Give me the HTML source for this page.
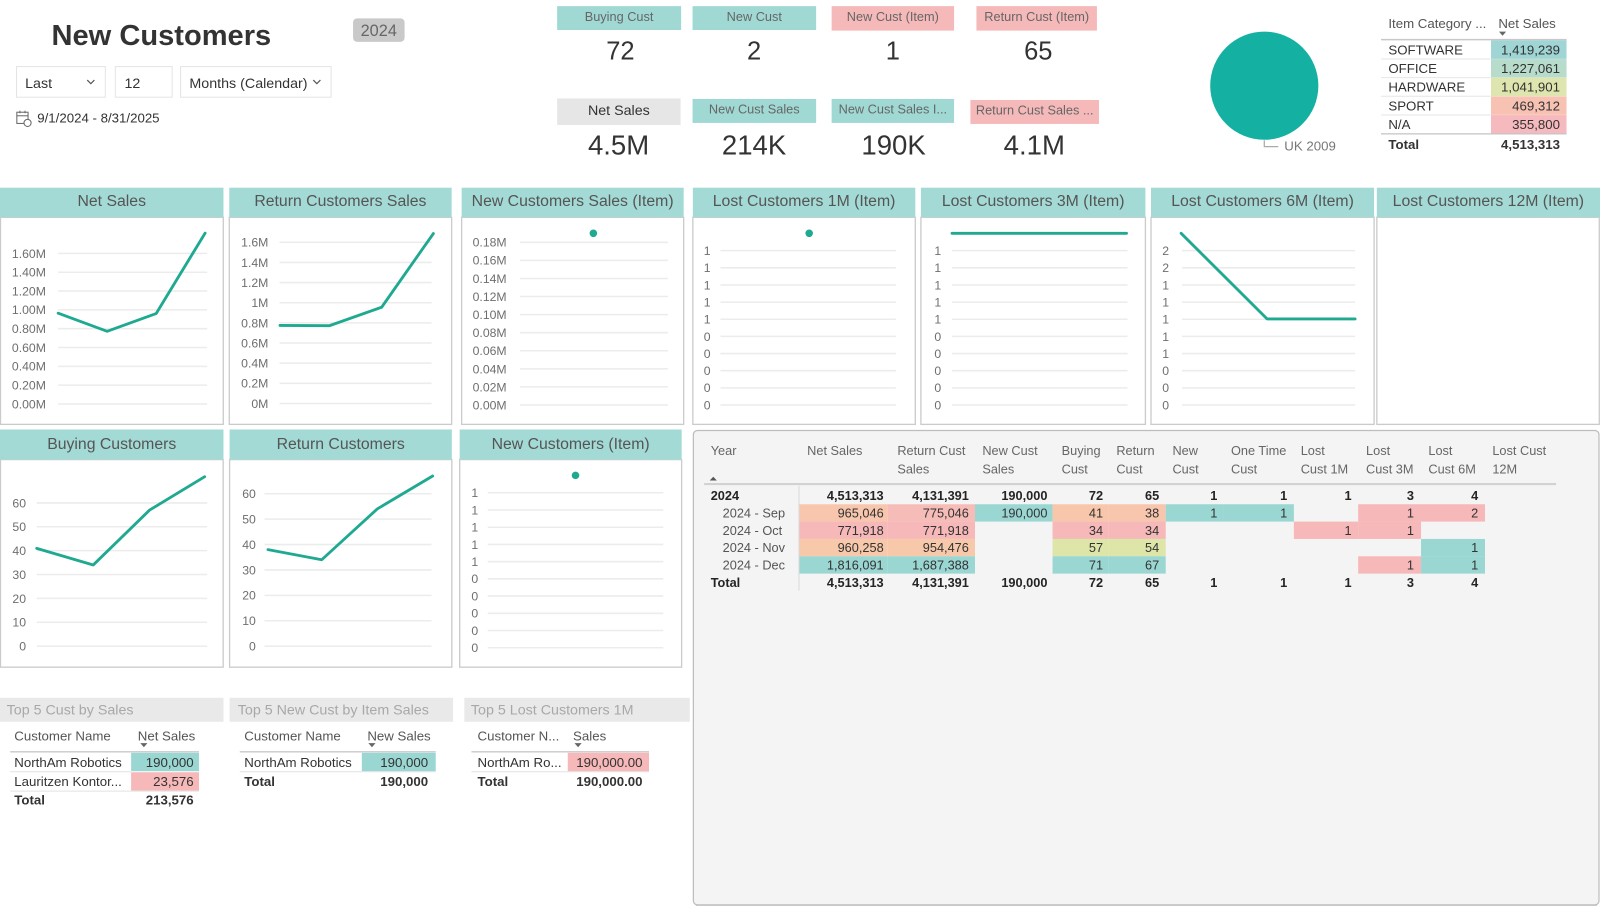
<!DOCTYPE html>
<html><head><meta charset="utf-8">
<style>
html,body{margin:0;padding:0;background:#fff;}
svg{display:block;font-family:"Liberation Sans",Arial,sans-serif;}
.ax{font-size:12px;fill:#6e6e6e;}
.axe{font-size:12px;fill:#6e6e6e;text-anchor:end;}
.axm{font-size:12px;fill:#6e6e6e;text-anchor:middle;}
.ht{font-size:15.5px;fill:#555;text-anchor:middle;}
.gl{stroke:#ececec;stroke-width:1.5;}
.ln{fill:none;stroke:#20a991;stroke-width:2.8;stroke-linejoin:round;stroke-linecap:round;}
.kl{font-size:12.5px;fill:#666;text-anchor:middle;}
.kv{font-size:25px;fill:#333;text-anchor:middle;}
.kv2{font-size:27px;fill:#333;text-anchor:middle;}
.t13{font-size:13px;fill:#333;}
.t13e{font-size:13px;fill:#333;text-anchor:end;}
.th{font-size:13px;fill:#555;}
.mh{font-size:12.5px;fill:#666;}
.mv{font-size:12.5px;fill:#333;text-anchor:end;}
.mb{font-size:12.5px;fill:#252423;text-anchor:end;font-weight:bold;}
.ml{font-size:12.5px;fill:#555;}
.bt{font-size:14px;fill:#a8a8a8;}
</style></head><body>
<svg width="1600" height="912" viewBox="0 0 1568 894" preserveAspectRatio="none" xmlns="http://www.w3.org/2000/svg">
<rect x="0" y="0" width="1568" height="894" fill="#fff"/>

<!-- Header -->
<text x="50.5" y="44.1" font-size="28.5" font-weight="bold" fill="#333">New Customers</text>
<rect x="346" y="18" width="50.5" height="23" rx="4" fill="#c9c9c9"/>
<text x="371.2" y="35.2" font-size="16" fill="#666" text-anchor="middle">2024</text>

<rect x="16.2" y="65.3" width="87" height="30" fill="#fff" stroke="#e4e4e4"/>
<text x="24.6" y="86.3" font-size="14" fill="#333">Last</text>
<polyline points="85.5,78.5 89,82 92.5,78.5" fill="none" stroke="#555" stroke-width="1.2"/>
<rect x="113" y="65.3" width="55.7" height="30" fill="#fff" stroke="#e4e4e4"/>
<text x="122" y="86.3" font-size="14" fill="#333">12</text>
<rect x="177" y="65.3" width="147.5" height="30" fill="#fff" stroke="#e4e4e4"/>
<text x="185.6" y="86.3" font-size="14" fill="#333">Months (Calendar)</text>
<polyline points="307,78.5 310.5,82 314,78.5" fill="none" stroke="#555" stroke-width="1.2"/>

<!-- calendar icon -->
<rect x="16.5" y="110" width="11" height="11" fill="none" stroke="#666" stroke-width="1"/>
<line x1="16.5" y1="113.5" x2="27.5" y2="113.5" stroke="#666" stroke-width="1"/>
<line x1="19.5" y1="108.5" x2="19.5" y2="111" stroke="#666"/>
<line x1="24.5" y1="108.5" x2="24.5" y2="111" stroke="#666"/>
<circle cx="27" cy="120.5" r="3.5" fill="#fff" stroke="#666" stroke-width="1"/>
<text x="36.5" y="120" font-size="13" fill="#333">9/1/2024 - 8/31/2025</text>

<!-- KPI cards -->
<rect x="546" y="6" width="121.5" height="23.4" fill="#a0d9d4"/>
<text class="kl" x="606.7" y="20.8">Buying Cust</text>
<rect x="678.7" y="6" width="121.1" height="23.4" fill="#a0d9d4"/>
<text class="kl" x="739.2" y="20.8">New Cust</text>
<rect x="815" y="6" width="120" height="24" fill="#f5b9b9"/>
<text class="kl" x="875" y="20.8">New Cust (Item)</text>
<rect x="956.9" y="6" width="118.1" height="24" fill="#f5b9b9"/>
<text class="kl" x="1016" y="20.8">Return Cust (Item)</text>

<text class="kv" x="608" y="58.5">72</text>
<text class="kv" x="739" y="58.5">2</text>
<text class="kv" x="875" y="58.5">1</text>
<text class="kv" x="1017.5" y="58.5">65</text>

<rect x="546" y="96.5" width="121" height="26" fill="#e6e6e6"/>
<text x="606.5" y="112.5" font-size="14" fill="#333" text-anchor="middle">Net Sales</text>
<rect x="678.7" y="97" width="121.1" height="23.5" fill="#a0d9d4"/>
<text class="kl" x="739.2" y="111.3">New Cust Sales</text>
<rect x="815" y="97" width="120" height="23.5" fill="#a0d9d4"/>
<text class="kl" x="875" y="111.3">New Cust Sales I...</text>
<rect x="951" y="98" width="126" height="23.5" fill="#f5b9b9"/>
<text class="kl" x="1014" y="112.3">Return Cust Sales ...</text>

<text class="kv2" x="606.2" y="151.3">4.5M</text>
<text class="kv2" x="739" y="151.3">214K</text>
<text class="kv2" x="875.7" y="151.3">190K</text>
<text class="kv2" x="1013.6" y="151.3">4.1M</text>

<!-- Pie -->
<circle cx="1239" cy="84" r="53" fill="#14b1a3"/>
<polyline points="1239,137.5 1239,143.7 1252.7,143.7" fill="none" stroke="#aaa" stroke-width="1.2"/>
<text x="1258.6" y="147.7" font-size="13" fill="#777">UK 2009</text>

<!-- Category table -->
<text class="th" x="1360.6" y="27.5">Item Category ...</text>
<text class="th" x="1468.4" y="27.5">Net Sales</text>
<polygon points="1469,31 1476,31 1472.5,35" fill="#666"/>
<line x1="1353.4" y1="38.8" x2="1535.3" y2="38.8" stroke="#c8c8c8" stroke-width="1.5"/>
<rect x="1461.2" y="39.6" width="74" height="18.1" fill="#9fd5d5"/>
<rect x="1461.2" y="57.9" width="74" height="18.1" fill="#b7dccb"/>
<rect x="1461.2" y="76.2" width="74" height="18.1" fill="#dfe5ae"/>
<rect x="1461.2" y="94.5" width="74" height="18.1" fill="#f8c2b3"/>
<rect x="1461.2" y="112.8" width="74" height="18.1" fill="#f6b9bd"/>
<g stroke="#e6e6e6" stroke-width="1">
<line x1="1353.4" y1="57.8" x2="1461" y2="57.8"/>
<line x1="1353.4" y1="76.1" x2="1461" y2="76.1"/>
<line x1="1353.4" y1="94.4" x2="1461" y2="94.4"/>
<line x1="1353.4" y1="112.7" x2="1461" y2="112.7"/>
</g>
<line x1="1353.4" y1="131.2" x2="1535.3" y2="131.2" stroke="#c4c4c4" stroke-width="1.2"/>
<text class="t13" x="1360.6" y="53.3">SOFTWARE</text>
<text class="t13" x="1360.6" y="71.6">OFFICE</text>
<text class="t13" x="1360.6" y="89.9">HARDWARE</text>
<text class="t13" x="1360.6" y="108.2">SPORT</text>
<text class="t13" x="1360.6" y="126.5">N/A</text>
<text class="t13e" x="1528.8" y="53.3">1,419,239</text>
<text class="t13e" x="1528.8" y="71.6">1,227,061</text>
<text class="t13e" x="1528.8" y="89.9">1,041,901</text>
<text class="t13e" x="1528.8" y="108.2">469,312</text>
<text class="t13e" x="1528.8" y="126.5">355,800</text>
<text class="t13" x="1360.6" y="146" font-weight="bold">Total</text>
<text class="t13e" x="1528.8" y="146" font-weight="bold">4,513,313</text>

<!-- ===== Row 1 panels ===== -->
<g>
<rect x="0.5" y="213" width="218.3" height="203" fill="#fff" stroke="#cbcbcb" stroke-width="1.3"/>
<rect x="0" y="184" width="219" height="29" fill="#a3dad5"/>
<text class="ht" x="109.5" y="202">Net Sales</text>
<rect x="224.7" y="213" width="217.9" height="203" fill="#fff" stroke="#cbcbcb" stroke-width="1.3"/>
<rect x="224.7" y="184" width="217.9" height="29" fill="#a3dad5"/>
<text class="ht" x="333.6" y="202">Return Customers Sales</text>
<rect x="452.4" y="213" width="217.6" height="203" fill="#fff" stroke="#cbcbcb" stroke-width="1.3"/>
<rect x="452.4" y="184" width="217.6" height="29" fill="#a3dad5"/>
<text class="ht" x="561.2" y="202">New Customers Sales (Item)</text>
<rect x="679" y="213" width="218" height="203" fill="#fff" stroke="#cbcbcb" stroke-width="1.3"/>
<rect x="679" y="184" width="218" height="29" fill="#a3dad5"/>
<text class="ht" x="788" y="202">Lost Customers 1M (Item)</text>
<rect x="902.5" y="213" width="220" height="203" fill="#fff" stroke="#cbcbcb" stroke-width="1.3"/>
<rect x="902.5" y="184" width="220" height="29" fill="#a3dad5"/>
<text class="ht" x="1012.5" y="202">Lost Customers 3M (Item)</text>
<rect x="1128" y="213" width="218.6" height="203" fill="#fff" stroke="#cbcbcb" stroke-width="1.3"/>
<rect x="1128" y="184" width="218.6" height="29" fill="#a3dad5"/>
<text class="ht" x="1237.3" y="202">Lost Customers 6M (Item)</text>
<rect x="1349.3" y="213" width="218" height="203" fill="#fff" stroke="#cbcbcb" stroke-width="1.3"/>
<rect x="1349.3" y="184" width="218.7" height="29" fill="#a3dad5"/>
<text class="ht" x="1458.6" y="202">Lost Customers 12M (Item)</text>
</g>

<!-- Chart 1 Net Sales -->
<g class="gl">
<line x1="57" y1="396" x2="203" y2="396"/><line x1="57" y1="377.55" x2="203" y2="377.55"/><line x1="57" y1="359.1" x2="203" y2="359.1"/><line x1="57" y1="340.65" x2="203" y2="340.65"/><line x1="57" y1="322.2" x2="203" y2="322.2"/><line x1="57" y1="303.75" x2="203" y2="303.75"/><line x1="57" y1="285.3" x2="203" y2="285.3"/><line x1="57" y1="266.85" x2="203" y2="266.85"/><line x1="57" y1="248.4" x2="203" y2="248.4"/>
</g>
<g class="axe">
<text x="45" y="400.3">0.00M</text><text x="45" y="381.85">0.20M</text><text x="45" y="363.4">0.40M</text><text x="45" y="344.95">0.60M</text><text x="45" y="326.5">0.80M</text><text x="45" y="308.05">1.00M</text><text x="45" y="289.6">1.20M</text><text x="45" y="271.15">1.40M</text><text x="45" y="252.7">1.60M</text>
</g>
<polyline class="ln" points="57,307 105,324.8 153,307.4 201,228.5"/>

<!-- Chart 2 Return Customers Sales -->
<g class="gl">
<line x1="274" y1="395.5" x2="423" y2="395.5"/><line x1="274" y1="375.75" x2="423" y2="375.75"/><line x1="274" y1="356" x2="423" y2="356"/><line x1="274" y1="336.25" x2="423" y2="336.25"/><line x1="274" y1="316.5" x2="423" y2="316.5"/><line x1="274" y1="296.75" x2="423" y2="296.75"/><line x1="274" y1="277" x2="423" y2="277"/><line x1="274" y1="257.25" x2="423" y2="257.25"/><line x1="274" y1="237.5" x2="423" y2="237.5"/>
</g>
<g class="axe">
<text x="263" y="399.8">0M</text><text x="263" y="380.05">0.2M</text><text x="263" y="360.3">0.4M</text><text x="263" y="340.55">0.6M</text><text x="263" y="320.8">0.8M</text><text x="263" y="301.05">1M</text><text x="263" y="281.3">1.2M</text><text x="263" y="261.55">1.4M</text><text x="263" y="241.8">1.6M</text>
</g>
<polyline class="ln" points="274.4,319 322.7,319.3 374,301.2 424.7,228.9"/>

<!-- Chart 3 New Customers Sales (Item) -->
<g class="gl">
<line x1="509.6" y1="397" x2="654.6" y2="397"/><line x1="509.6" y1="379.28" x2="654.6" y2="379.28"/><line x1="509.6" y1="361.56" x2="654.6" y2="361.56"/><line x1="509.6" y1="343.84" x2="654.6" y2="343.84"/><line x1="509.6" y1="326.12" x2="654.6" y2="326.12"/><line x1="509.6" y1="308.4" x2="654.6" y2="308.4"/><line x1="509.6" y1="290.68" x2="654.6" y2="290.68"/><line x1="509.6" y1="272.96" x2="654.6" y2="272.96"/><line x1="509.6" y1="255.24" x2="654.6" y2="255.24"/><line x1="509.6" y1="237.52" x2="654.6" y2="237.52"/>
</g>
<g class="axe">
<text x="496.5" y="401.3">0.00M</text><text x="496.5" y="383.6">0.02M</text><text x="496.5" y="365.9">0.04M</text><text x="496.5" y="348.1">0.06M</text><text x="496.5" y="330.4">0.08M</text><text x="496.5" y="312.7">0.10M</text><text x="496.5" y="295">0.12M</text><text x="496.5" y="277.3">0.14M</text><text x="496.5" y="259.5">0.16M</text><text x="496.5" y="241.8">0.18M</text>
</g>
<circle cx="581.5" cy="228.7" r="3.7" fill="#20a991"/>

<!-- Chart 4 Lost 1M -->
<g class="gl">
<line x1="706" y1="397" x2="878" y2="397"/><line x1="706" y1="380.19" x2="878" y2="380.19"/><line x1="706" y1="363.38" x2="878" y2="363.38"/><line x1="706" y1="346.57" x2="878" y2="346.57"/><line x1="706" y1="329.76" x2="878" y2="329.76"/><line x1="706" y1="312.95" x2="878" y2="312.95"/><line x1="706" y1="296.14" x2="878" y2="296.14"/><line x1="706" y1="279.33" x2="878" y2="279.33"/><line x1="706" y1="262.52" x2="878" y2="262.52"/><line x1="706" y1="245.71" x2="878" y2="245.71"/>
</g>
<g class="axm">
<text x="693" y="401.3">0</text><text x="693" y="384.5">0</text><text x="693" y="367.7">0</text><text x="693" y="350.9">0</text><text x="693" y="334.1">0</text><text x="693" y="317.3">1</text><text x="693" y="300.4">1</text><text x="693" y="283.6">1</text><text x="693" y="266.8">1</text><text x="693" y="250">1</text>
</g>
<circle cx="793" cy="228.7" r="3.7" fill="#20a991"/>

<!-- Chart 5 Lost 3M -->
<g class="gl">
<line x1="933" y1="397" x2="1105" y2="397"/><line x1="933" y1="380.19" x2="1105" y2="380.19"/><line x1="933" y1="363.38" x2="1105" y2="363.38"/><line x1="933" y1="346.57" x2="1105" y2="346.57"/><line x1="933" y1="329.76" x2="1105" y2="329.76"/><line x1="933" y1="312.95" x2="1105" y2="312.95"/><line x1="933" y1="296.14" x2="1105" y2="296.14"/><line x1="933" y1="279.33" x2="1105" y2="279.33"/><line x1="933" y1="262.52" x2="1105" y2="262.52"/><line x1="933" y1="245.71" x2="1105" y2="245.71"/>
</g>
<g class="axm">
<text x="919" y="401.3">0</text><text x="919" y="384.5">0</text><text x="919" y="367.7">0</text><text x="919" y="350.9">0</text><text x="919" y="334.1">0</text><text x="919" y="317.3">1</text><text x="919" y="300.4">1</text><text x="919" y="283.6">1</text><text x="919" y="266.8">1</text><text x="919" y="250">1</text>
</g>
<polyline class="ln" points="933,228.7 1104,228.7"/>

<!-- Chart 6 Lost 6M -->
<g class="gl">
<line x1="1158.4" y1="397" x2="1328" y2="397"/><line x1="1158.4" y1="380.19" x2="1328" y2="380.19"/><line x1="1158.4" y1="363.38" x2="1328" y2="363.38"/><line x1="1158.4" y1="346.57" x2="1328" y2="346.57"/><line x1="1158.4" y1="329.76" x2="1328" y2="329.76"/><line x1="1158.4" y1="312.95" x2="1328" y2="312.95"/><line x1="1158.4" y1="296.14" x2="1328" y2="296.14"/><line x1="1158.4" y1="279.33" x2="1328" y2="279.33"/><line x1="1158.4" y1="262.52" x2="1328" y2="262.52"/><line x1="1158.4" y1="245.71" x2="1328" y2="245.71"/>
</g>
<g class="axm">
<text x="1142.3" y="401.3">0</text><text x="1142.3" y="384.5">0</text><text x="1142.3" y="367.7">0</text><text x="1142.3" y="350.9">1</text><text x="1142.3" y="334.1">1</text><text x="1142.3" y="317.3">1</text><text x="1142.3" y="300.4">1</text><text x="1142.3" y="283.6">1</text><text x="1142.3" y="266.8">2</text><text x="1142.3" y="250">2</text>
</g>
<polyline class="ln" points="1157.5,228.7 1241.7,312.6 1328,312.6"/>

<!-- ===== Row 2 panels ===== -->
<rect x="0.5" y="450.5" width="218.2" height="203.5" fill="#fff" stroke="#cbcbcb" stroke-width="1.3"/>
<rect x="0" y="421" width="219" height="29.5" fill="#a3dad5"/>
<text class="ht" x="109.5" y="440.2">Buying Customers</text>
<rect x="225" y="450.5" width="217.8" height="203.5" fill="#fff" stroke="#cbcbcb" stroke-width="1.3"/>
<rect x="225" y="421" width="217.8" height="29.5" fill="#a3dad5"/>
<text class="ht" x="333.9" y="440.2">Return Customers</text>
<rect x="450.5" y="450.5" width="217.5" height="203.5" fill="#fff" stroke="#cbcbcb" stroke-width="1.3"/>
<rect x="450.5" y="421" width="217.5" height="29.5" fill="#a3dad5"/>
<text class="ht" x="559.2" y="440.2">New Customers (Item)</text>

<!-- Buying Customers -->
<g class="gl">
<line x1="36" y1="633.4" x2="203" y2="633.4"/><line x1="36" y1="610" x2="203" y2="610"/><line x1="36" y1="586.6" x2="203" y2="586.6"/><line x1="36" y1="563.2" x2="203" y2="563.2"/><line x1="36" y1="539.8" x2="203" y2="539.8"/><line x1="36" y1="516.4" x2="203" y2="516.4"/><line x1="36" y1="493" x2="203" y2="493"/>
</g>
<g class="axe">
<text x="25.5" y="637.7">0</text><text x="25.5" y="614.3">10</text><text x="25.5" y="590.9">20</text><text x="25.5" y="567.5">30</text><text x="25.5" y="544.1">40</text><text x="25.5" y="520.7">50</text><text x="25.5" y="497.3">60</text>
</g>
<polyline class="ln" points="36,537.5 91.4,553.8 146.6,500 200.6,467.3"/>

<!-- Return Customers -->
<g class="gl">
<line x1="259.2" y1="633.4" x2="422.9" y2="633.4"/><line x1="259.2" y1="608.5" x2="422.9" y2="608.5"/><line x1="259.2" y1="583.6" x2="422.9" y2="583.6"/><line x1="259.2" y1="558.7" x2="422.9" y2="558.7"/><line x1="259.2" y1="533.8" x2="422.9" y2="533.8"/><line x1="259.2" y1="508.9" x2="422.9" y2="508.9"/><line x1="259.2" y1="484" x2="422.9" y2="484"/>
</g>
<g class="axe">
<text x="250.7" y="637.7">0</text><text x="250.7" y="612.8">10</text><text x="250.7" y="587.9">20</text><text x="250.7" y="563">30</text><text x="250.7" y="538.1">40</text><text x="250.7" y="513.2">50</text><text x="250.7" y="488.3">60</text>
</g>
<polyline class="ln" points="262.6,538.8 315.3,548.7 369.7,498.9 424,466.6"/>

<!-- New Customers (Item) -->
<g class="gl">
<line x1="478" y1="635" x2="650" y2="635"/><line x1="478" y1="618.1" x2="650" y2="618.1"/><line x1="478" y1="601.2" x2="650" y2="601.2"/><line x1="478" y1="584.3" x2="650" y2="584.3"/><line x1="478" y1="567.4" x2="650" y2="567.4"/><line x1="478" y1="550.6" x2="650" y2="550.6"/><line x1="478" y1="533.7" x2="650" y2="533.7"/><line x1="478" y1="516.8" x2="650" y2="516.8"/><line x1="478" y1="499.9" x2="650" y2="499.9"/><line x1="478" y1="483" x2="650" y2="483"/>
</g>
<g class="axm">
<text x="465.3" y="639.3">0</text><text x="465.3" y="622.4">0</text><text x="465.3" y="605.5">0</text><text x="465.3" y="588.6">0</text><text x="465.3" y="571.7">0</text><text x="465.3" y="554.9">1</text><text x="465.3" y="538">1</text><text x="465.3" y="521.1">1</text><text x="465.3" y="504.2">1</text><text x="465.3" y="487.3">1</text>
</g>
<circle cx="564" cy="466" r="3.7" fill="#20a991"/>

<!-- ===== Matrix ===== -->
<rect x="679.5" y="422" width="887.5" height="465" rx="4" fill="#f4f4f4" stroke="#bdbdbd" stroke-width="1.2"/>
<line x1="682" y1="887.6" x2="1565" y2="887.6" stroke="#c8c8c8" stroke-width="1"/>
<g class="mh">
<text x="696.5" y="446.2">Year</text>
<text x="791" y="446.2">Net Sales</text>
<text x="879.4" y="446.2">Return Cust</text><text x="879.4" y="464.1">Sales</text>
<text x="962.7" y="446.2">New Cust</text><text x="962.7" y="464.1">Sales</text>
<text x="1040.4" y="446.2">Buying</text><text x="1040.4" y="464.1">Cust</text>
<text x="1094" y="446.2">Return</text><text x="1094" y="464.1">Cust</text>
<text x="1149" y="446.2">New</text><text x="1149" y="464.1">Cust</text>
<text x="1206.4" y="446.2">One Time</text><text x="1206.4" y="464.1">Cust</text>
<text x="1274.7" y="446.2">Lost</text><text x="1274.7" y="464.1">Cust 1M</text>
<text x="1338.7" y="446.2">Lost</text><text x="1338.7" y="464.1">Cust 3M</text>
<text x="1399.8" y="446.2">Lost</text><text x="1399.8" y="464.1">Cust 6M</text>
<text x="1462.5" y="446.2">Lost Cust</text><text x="1462.5" y="464.1">12M</text>
</g>
<polygon points="695.5,471 702.5,471 699,467.3" fill="#555"/>
<line x1="690" y1="474.5" x2="1525" y2="474.5" stroke="#d2d2d2" stroke-width="2"/>

<!-- cell backgrounds -->
<!-- Sep -->
<rect x="783" y="494.3" width="87" height="17" fill="#f8c6ad"/>
<rect x="870" y="494.3" width="85.5" height="17" fill="#f6bcb7"/>
<rect x="955.5" y="494.3" width="76" height="17" fill="#9ad7d3"/>
<rect x="1031.5" y="494.3" width="54.5" height="17" fill="#f8c7ab"/>
<rect x="1086" y="494.3" width="56.4" height="17" fill="#f8c5ad"/>
<rect x="1142.4" y="494.3" width="56.6" height="17" fill="#9ad7d3"/>
<rect x="1199" y="494.3" width="69" height="17" fill="#9ad7d3"/>
<rect x="1331" y="494.3" width="61.6" height="17" fill="#f6b8b8"/>
<rect x="1392.6" y="494.3" width="62.7" height="17" fill="#f6b8b8"/>
<!-- Oct -->
<rect x="783" y="511.3" width="87" height="17" fill="#f6b8b8"/>
<rect x="870" y="511.3" width="85.5" height="17" fill="#f6b8b8"/>
<rect x="1031.5" y="511.3" width="54.5" height="17" fill="#f6b8b8"/>
<rect x="1086" y="511.3" width="56.4" height="17" fill="#f6b8b8"/>
<rect x="1268" y="511.3" width="63" height="17" fill="#f6b8b8"/>
<rect x="1331" y="511.3" width="61.6" height="17" fill="#f6b8b8"/>
<!-- Nov -->
<rect x="783" y="528.3" width="87" height="17" fill="#f8c8ab"/>
<rect x="870" y="528.3" width="85.5" height="17" fill="#f8c8ab"/>
<rect x="1031.5" y="528.3" width="54.5" height="17" fill="#dde5a8"/>
<rect x="1086" y="528.3" width="56.4" height="17" fill="#dde5a8"/>
<rect x="1392.6" y="528.3" width="62.7" height="17" fill="#9ad7d3"/>
<!-- Dec -->
<rect x="783" y="545.3" width="87" height="17" fill="#9ad7d3"/>
<rect x="870" y="545.3" width="85.5" height="17" fill="#9ad7d3"/>
<rect x="1031.5" y="545.3" width="54.5" height="17" fill="#9ad7d3"/>
<rect x="1086" y="545.3" width="56.4" height="17" fill="#9ad7d3"/>
<rect x="1331" y="545.3" width="61.6" height="17" fill="#f6b8b8"/>
<rect x="1392.6" y="545.3" width="62.7" height="17" fill="#9ad7d3"/>

<line x1="783" y1="476" x2="783" y2="579" stroke="#dadada" stroke-width="1"/>

<!-- row labels -->
<text x="696.5" y="489.9" font-size="12.5" font-weight="bold" fill="#252423">2024</text>
<text class="ml" x="708.2" y="507.3">2024 - Sep</text>
<text class="ml" x="708.2" y="524.3">2024 - Oct</text>
<text class="ml" x="708.2" y="541.3">2024 - Nov</text>
<text class="ml" x="708.2" y="558.3">2024 - Dec</text>
<text x="696.5" y="575.2" font-size="12.5" font-weight="bold" fill="#252423">Total</text>

<!-- 2024 row -->
<g class="mb">
<text x="866" y="489.9">4,513,313</text><text x="949.5" y="489.9">4,131,391</text><text x="1026.5" y="489.9">190,000</text><text x="1081" y="489.9">72</text><text x="1136" y="489.9">65</text><text x="1193" y="489.9">1</text><text x="1261.5" y="489.9">1</text><text x="1324.6" y="489.9">1</text><text x="1385.7" y="489.9">3</text><text x="1448.7" y="489.9">4</text>
</g>
<g class="mv">
<text x="866" y="507.3">965,046</text><text x="949.5" y="507.3">775,046</text><text x="1026.5" y="507.3">190,000</text><text x="1081" y="507.3">41</text><text x="1136" y="507.3">38</text><text x="1193" y="507.3">1</text><text x="1261.5" y="507.3">1</text><text x="1385.7" y="507.3">1</text><text x="1448.7" y="507.3">2</text>
<text x="866" y="524.3">771,918</text><text x="949.5" y="524.3">771,918</text><text x="1081" y="524.3">34</text><text x="1136" y="524.3">34</text><text x="1324.6" y="524.3">1</text><text x="1385.7" y="524.3">1</text>
<text x="866" y="541.3">960,258</text><text x="949.5" y="541.3">954,476</text><text x="1081" y="541.3">57</text><text x="1136" y="541.3">54</text><text x="1448.7" y="541.3">1</text>
<text x="866" y="558.3">1,816,091</text><text x="949.5" y="558.3">1,687,388</text><text x="1081" y="558.3">71</text><text x="1136" y="558.3">67</text><text x="1385.7" y="558.3">1</text><text x="1448.7" y="558.3">1</text>
</g>
<g class="mb">
<text x="866" y="575.2">4,513,313</text><text x="949.5" y="575.2">4,131,391</text><text x="1026.5" y="575.2">190,000</text><text x="1081" y="575.2">72</text><text x="1136" y="575.2">65</text><text x="1193" y="575.2">1</text><text x="1261.5" y="575.2">1</text><text x="1324.6" y="575.2">1</text><text x="1385.7" y="575.2">3</text><text x="1448.7" y="575.2">4</text>
</g>

<!-- ===== Bottom tables ===== -->
<rect x="0" y="684" width="219" height="23.5" fill="#e9e9e9"/>
<text class="bt" x="6.5" y="700.5">Top 5 Cust by Sales</text>
<rect x="225" y="684" width="219" height="23.5" fill="#e9e9e9"/>
<text class="bt" x="233" y="700.5">Top 5 New Cust by Item Sales</text>
<rect x="455" y="684" width="221" height="23.5" fill="#e9e9e9"/>
<text class="bt" x="461.5" y="700.5">Top 5 Lost Customers 1M</text>

<!-- table 1 -->
<text class="th" x="14" y="725.7">Customer Name</text>
<text class="th" x="135" y="725.7">Net Sales</text>
<polygon points="137.5,728.5 144.5,728.5 141,732.5" fill="#666"/>
<line x1="10" y1="737" x2="195" y2="737" stroke="#c8c8c8" stroke-width="1.3"/>
<rect x="128.5" y="738" width="66.5" height="18" fill="#9ad7d3"/>
<rect x="128.5" y="757" width="66.5" height="18" fill="#f6b8b8"/>
<line x1="10" y1="756.5" x2="128.5" y2="756.5" stroke="#e2e2e2"/>
<line x1="10" y1="775.5" x2="195" y2="775.5" stroke="#e2e2e2"/>
<text class="t13" x="14" y="752">NorthAm Robotics</text>
<text class="t13e" x="189.8" y="752">190,000</text>
<text class="t13" x="14" y="770.7">Lauritzen Kontor...</text>
<text class="t13e" x="189.8" y="770.7">23,576</text>
<text class="t13" x="14" y="788.7" font-weight="bold">Total</text>
<text class="t13e" x="189.8" y="788.7" font-weight="bold">213,576</text>

<!-- table 2 -->
<text class="th" x="239.4" y="725.7">Customer Name</text>
<text class="th" x="360" y="725.7">New Sales</text>
<polygon points="361,728.5 368,728.5 364.5,732.5" fill="#666"/>
<line x1="235" y1="737" x2="427" y2="737" stroke="#c8c8c8" stroke-width="1.3"/>
<rect x="354.6" y="738" width="72.4" height="18" fill="#9ad7d3"/>
<line x1="235" y1="756.5" x2="427" y2="756.5" stroke="#e2e2e2"/>
<text class="t13" x="239.4" y="752">NorthAm Robotics</text>
<text class="t13e" x="419.6" y="752">190,000</text>
<text class="t13" x="239.4" y="770.7" font-weight="bold">Total</text>
<text class="t13e" x="419.6" y="770.7" font-weight="bold">190,000</text>

<!-- table 3 -->
<text class="th" x="468" y="725.7">Customer N...</text>
<text class="th" x="561.6" y="725.7">Sales</text>
<polygon points="563,728.5 570,728.5 566.5,732.5" fill="#666"/>
<line x1="462" y1="737" x2="636" y2="737" stroke="#c8c8c8" stroke-width="1.3"/>
<rect x="556.4" y="738" width="79.6" height="18" fill="#f6b8b8"/>
<line x1="462" y1="756.5" x2="636" y2="756.5" stroke="#e2e2e2"/>
<text class="t13" x="468" y="752">NorthAm Ro...</text>
<text class="t13e" x="629.7" y="752">190,000.00</text>
<text class="t13" x="468" y="770.7" font-weight="bold">Total</text>
<text class="t13e" x="629.7" y="770.7" font-weight="bold">190,000.00</text>

</svg>
</body></html>
